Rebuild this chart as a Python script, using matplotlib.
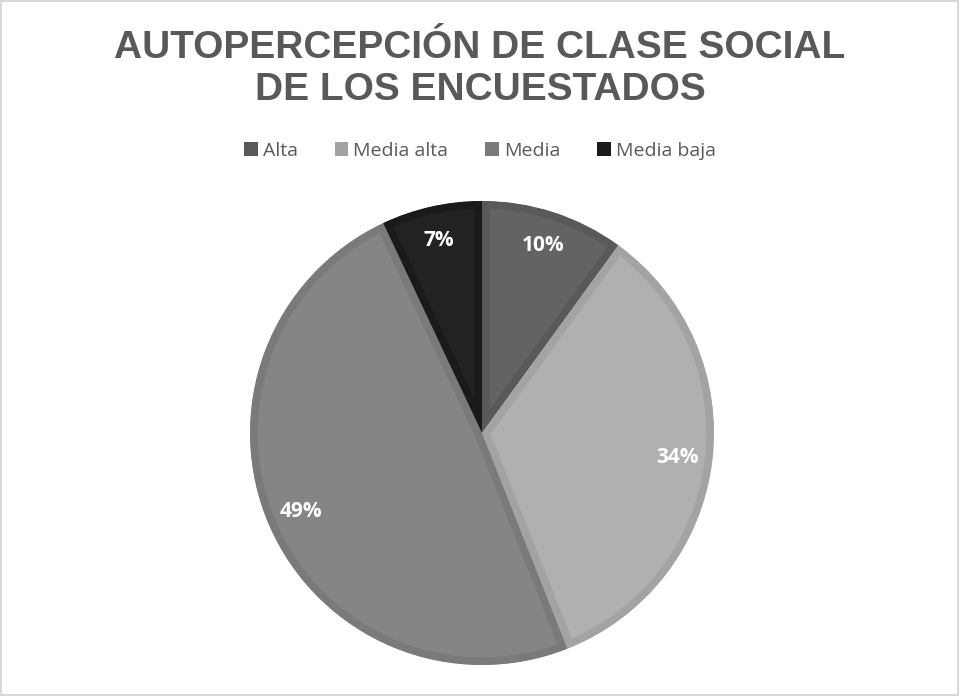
import matplotlib
matplotlib.use("Agg")
import matplotlib.pyplot as plt
from matplotlib.patches import Patch, Rectangle

categories = ["Alta", "Media alta", "Media", "Media baja"]
values = [10, 34, 49, 7]
fill_colors = ["#636363", "#b0b0b0", "#858585", "#222222"]
edge_colors = ["#595959", "#a3a3a3", "#7a7a7a", "#1a1a1a"]
title = "AUTOPERCEPCIÓN DE CLASE SOCIAL\nDE LOS ENCUESTADOS"

W, H = 960, 696
fig = plt.figure(figsize=(W / 100, H / 100), dpi=100)
fig.patch.set_facecolor("white")

cx, cy, R = 482, 433, 232
ax = fig.add_axes([(cx - R) / W, (H - cy - R) / H, 2 * R / W, 2 * R / H])
wedges, texts, autotexts = ax.pie(
    values, colors=fill_colors, startangle=90, counterclock=False, radius=1,
    autopct="%1.0f%%", pctdistance=0.85,
    wedgeprops=dict(linewidth=11, joinstyle="miter"),
    textprops=dict(color="white", fontsize=15, fontweight="bold", family="Open Sans"))
for w, ec in zip(wedges, edge_colors):
    w.set_edgecolor(ec)
    w.set_clip_on(True)
    w.set_clip_path(w)
ax.set_xlim(-1, 1)
ax.set_ylim(-1, 1)
ax.set_aspect("equal")
ax.axis("off")

fig.text(0.5, 1 - 69 / H, title, ha="center", va="center", fontsize=28,
         fontweight="bold", color="#595959", family="Liberation Sans",
         linespacing=1.2)

handles = [Patch(facecolor=ec, edgecolor="none") for ec in edge_colors]
fig.legend(handles, categories, loc="center", bbox_to_anchor=(0.5, 1 - 151 / H),
           ncol=4, frameon=False, prop=dict(family="Open Sans", size=14),
           labelcolor="#595959", handlelength=0.7, handleheight=0.7,
           handletextpad=0.25, columnspacing=1.9)

fig.add_artist(Rectangle((0.001, 0.002), 0.997, 0.996, transform=fig.transFigure,
                         fill=False, edgecolor="#d9d9d9", linewidth=1.5))

fig.savefig("out.png", dpi=100, facecolor="white")
